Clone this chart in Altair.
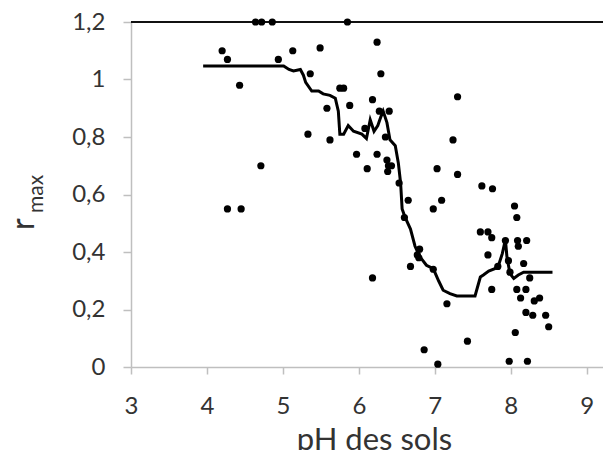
import altair as alt
import pandas as pd

# Scatter data: soil pH vs r_max
ph = [4.20, 4.27, 4.43, 4.71, 4.64, 4.72, 4.86, 4.94, 5.13, 5.36,
      5.49, 5.58, 5.33, 5.62, 5.75, 5.80, 5.85, 5.88, 6.18, 6.24,
      6.29, 6.27, 6.40, 5.97, 6.11, 6.24, 6.08, 6.35, 6.37, 6.39,
      6.43, 6.38, 4.27, 4.45, 6.18, 6.53, 7.30, 7.24, 7.03, 7.30,
      7.62, 7.76, 6.65, 6.60, 6.98, 7.09, 6.77, 6.80, 6.79, 6.68,
      6.98, 7.16, 6.86, 7.04, 7.43, 8.05, 8.08, 7.60, 7.70, 7.75,
      7.70, 8.09, 8.21, 8.10, 7.97, 8.17, 7.83, 7.99, 8.25, 7.75,
      8.08, 8.20, 8.13, 8.31, 8.38, 8.20, 8.29, 8.46, 8.50, 8.06,
      7.98, 8.22, 7.93]
rmax = [1.10, 1.07, 0.98, 0.70, 1.20, 1.20, 1.20, 1.07, 1.10, 1.02,
        1.11, 0.90, 0.81, 0.79, 0.97, 0.97, 1.20, 0.91, 0.93, 1.13,
        1.02, 0.89, 0.89, 0.74, 0.69, 0.74, 0.83, 0.80, 0.72, 0.70,
        0.70, 0.68, 0.55, 0.55, 0.31, 0.64, 0.94, 0.79, 0.69, 0.67,
        0.63, 0.62, 0.58, 0.52, 0.55, 0.58, 0.39, 0.41, 0.38, 0.35,
        0.34, 0.22, 0.06, 0.01, 0.09, 0.56, 0.52, 0.47, 0.47, 0.45,
        0.39, 0.44, 0.44, 0.42, 0.37, 0.36, 0.35, 0.33, 0.31, 0.27,
        0.27, 0.27, 0.24, 0.23, 0.24, 0.19, 0.18, 0.18, 0.14, 0.12,
        0.02, 0.02, 0.44]

# Smoothed curve
curve_ph = [3.95, 5.01, 5.08, 5.14, 5.23, 5.27, 5.30, 5.38, 5.47, 5.53,
            5.62, 5.69, 5.73, 5.75, 5.80, 5.86, 5.93, 6.04, 6.10, 6.15,
            6.20, 6.25, 6.29, 6.32, 6.37, 6.41, 6.48, 6.52, 6.55, 6.57,
            6.61, 6.68, 6.74, 6.80, 6.89, 6.98, 7.05, 7.11, 7.20, 7.29,
            7.53, 7.60, 7.64, 7.71, 7.79, 7.84, 7.89, 7.93, 7.95, 7.99,
            8.04, 8.10, 8.17, 8.55]
curve_r = [1.047, 1.047, 1.035, 1.03, 1.035, 1.015, 0.99, 0.96, 0.96, 0.95,
           0.945, 0.935, 0.89, 0.81, 0.81, 0.84, 0.82, 0.81, 0.795, 0.86,
           0.82, 0.84, 0.87, 0.89, 0.85, 0.79, 0.77, 0.71, 0.64, 0.55,
           0.52, 0.48, 0.42, 0.385, 0.354, 0.342, 0.30, 0.267, 0.255, 0.247,
           0.247, 0.313, 0.32, 0.334, 0.342, 0.354, 0.395, 0.443, 0.383, 0.325,
           0.308, 0.32, 0.33, 0.33]

x_ticks = [3, 4, 5, 6, 7, 8, 9]
y_ticks = [0, 0.2, 0.4, 0.6, 0.8, 1.0, 1.2]

pts = pd.DataFrame({"ph": ph, "r": rmax})
crv = pd.DataFrame({"ph": curve_ph, "r": curve_r})

FONT = "Lato"
LABEL = "#333333"
AXIS = "#bfbfbf"

xs = alt.Scale(domain=[3, 9.215], nice=False, zero=False)
ys = alt.Scale(domain=[0, 1.2], nice=False)

x_axis = alt.Axis(values=x_ticks, title="pH des sols", grid=False,
                  domainColor=AXIS, domainWidth=1.5, tickColor=AXIS, tickWidth=1.5,
                  tickSize=7, labelPadding=20, labelFont=FONT, labelFontSize=24,
                  labelColor=LABEL, titleFont=FONT, titleFontSize=31,
                  titleFontWeight="normal", titleColor=LABEL, titlePadding=7,
                  titleX=243, labelFlush=False)
y_axis = alt.Axis(values=y_ticks, title=None, grid=False,
                  domainColor=AXIS, domainWidth=1.5, tickColor=AXIS, tickWidth=1.5,
                  tickSize=8, labelPadding=18, labelFont=FONT, labelFontSize=24,
                  labelColor=LABEL, labelFlush=False,
                  labelExpr="replace(toString(round(datum.value*10)/10), '.', ',')")

top_rule = alt.Chart(pd.DataFrame({"r": [1.2]})).mark_rule(
    color="#111111", strokeWidth=2).encode(
    y=alt.Y("r:Q", scale=ys, axis=y_axis))

line = alt.Chart(crv).mark_line(color="black", strokeWidth=3).encode(
    x=alt.X("ph:Q", scale=xs, axis=x_axis),
    y=alt.Y("r:Q", scale=ys, axis=y_axis))

points = alt.Chart(pts).mark_circle(color="black", opacity=1, size=52).encode(
    x=alt.X("ph:Q", scale=xs, axis=x_axis),
    y=alt.Y("r:Q", scale=ys, axis=y_axis))

one = pd.DataFrame({"a": [0]})
title_r = alt.Chart(one).mark_text(
    text="r", angle=270, align="left", baseline="alphabetic",
    font=FONT, fontSize=32, color=LABEL).encode(
    x=alt.value(-97), y=alt.value(208))
title_sub = alt.Chart(one).mark_text(
    text="max", angle=270, align="left", baseline="alphabetic",
    font=FONT, fontSize=21, color=LABEL).encode(
    x=alt.value(-88), y=alt.value(191))

chart = alt.layer(top_rule, line, points, title_r, title_sub).properties(
    width=472, height=345,
    autosize=alt.AutoSizeParams(type="none"),
    padding={"left": 123, "top": 14, "right": 0, "bottom": 83},
).configure_view(stroke=None)

chart.save("out.html", embed_options={"renderer": "svg", "actions": False})
